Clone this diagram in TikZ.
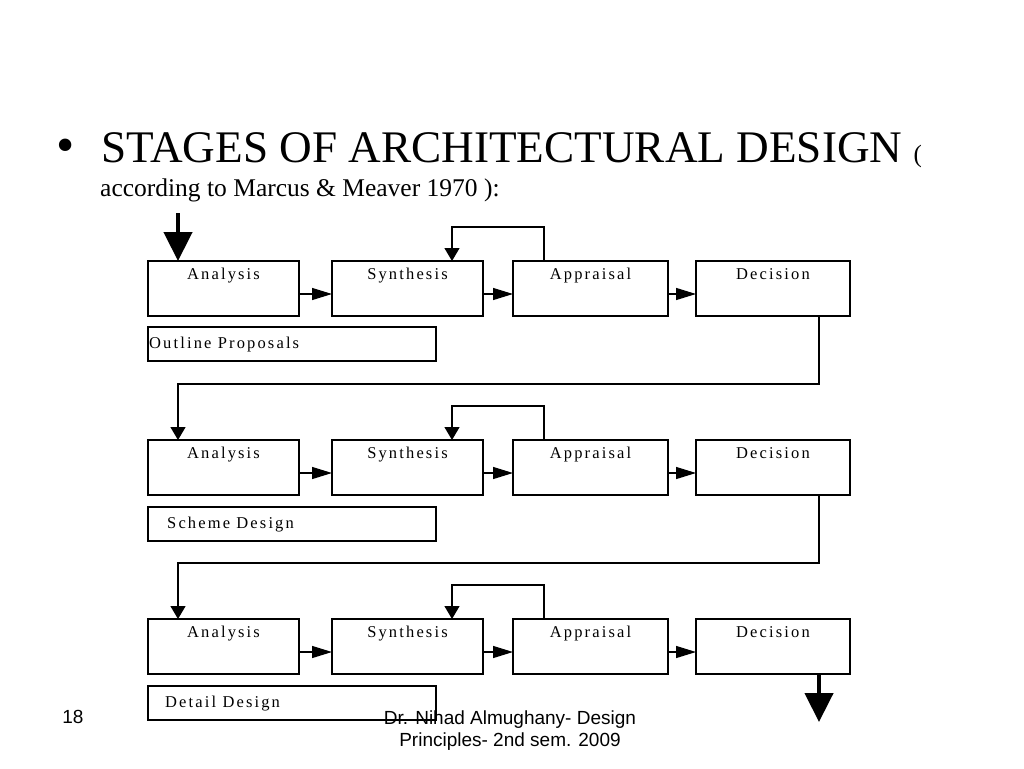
\documentclass[tikz,border=0pt]{standalone}
\usepackage{fontspec}
\setmainfont{Liberation Serif}
\newfontfamily\boxfont[LetterSpace=13]{Liberation Serif}
\newfontfamily\footfont{Liberation Sans}
\usetikzlibrary{arrows.meta}
\begin{document}
\begin{tikzpicture}[x=1pt,y=-1pt,
  stagebox/.style={draw=black, line width=1.2pt, inner sep=0pt, outer sep=0pt,
    text height=18pt, text depth=37pt, anchor=north west,
    font=\boxfont\fontsize{16.5}{19}\selectfont},
  widebox/.style={draw=black, line width=1.2pt, inner sep=0pt, outer sep=0pt,
    minimum width=288pt, minimum height=34pt, anchor=north west},
  boxtext/.style={inner sep=0pt, anchor=base west, font=\boxfont\fontsize{16.5}{19}\selectfont},
  flow/.style={line width=1.3pt, -{Triangle[length=20pt,width=12pt]}},
  fb/.style={line width=1.3pt, -{Triangle[length=13pt,width=15pt]}},
  bigarrow/.style={line width=4.5pt, -{Triangle[length=29pt,width=28pt]}},
  foot/.style={inner sep=0pt, anchor=base, font=\footfont\fontsize{19}{22}\selectfont}
]
\fill[white] (0,0) rectangle (1024,768);
\path[use as bounding box] (0,0) rectangle (1024,768);

% title
\node[inner sep=0pt] (bullet) at (66,151) {\fontsize{52}{56}\selectfont •};
\node[inner sep=0pt, anchor=base west] (title) at (101,162)
  {\fontsize{45.2}{50}\selectfont STAGES OF ARCHITECTURAL DESIGN {\fontsize{25}{30}\selectfont (}};
\node[inner sep=0pt, anchor=base west] (subtitle) at (100,196)
  {\fontsize{25.5}{30}\selectfont according to Marcus \& Meaver 1970 ):};

% rows
\foreach \r/\y in {1/261,2/440,3/619}{
  \node[stagebox, minimum width=151pt] (a\r) at (148,\y) {Analysis};
  \node[stagebox, minimum width=151pt] (s\r) at (332,\y) {Synthesis};
  \node[stagebox, minimum width=155pt] (p\r) at (513,\y) {Appraisal};
  \node[stagebox, minimum width=154pt] (d\r) at (696,\y) {Decision};
  \draw[flow] ([yshift=-5.5pt]a\r.east) -- ([yshift=-5.5pt]s\r.west);
  \draw[flow] ([yshift=-5.5pt]s\r.east) -- ([yshift=-5.5pt]p\r.west);
  \draw[flow] ([yshift=-5.5pt]p\r.east) -- ([yshift=-5.5pt]d\r.west);
  \draw[fb] ([xshift=31pt]p\r.north west) -- ++(0,-34) -| ([xshift=120pt]s\r.north west);
}

% stage output boxes
\node[widebox] (o1) at (148,327) {};
\node[boxtext] (t1) at (149,348) {Outline Proposals};
\node[widebox] (o2) at (148,507) {};
\node[boxtext] (t2) at (167,528) {Scheme Design};
\node[widebox] (o3) at (148,686) {};
\node[boxtext] (t3) at (165,707) {Detail Design};

% connections between rows
\draw[fb] ([xshift=123pt]d1.south west) -- ++(0,68) -| ([xshift=30pt]a2.north west);
\draw[fb] ([xshift=123pt]d2.south west) -- ++(0,68) -| ([xshift=30pt]a3.north west);

% entry and exit
\coordinate (st) at (178,213);
\draw[bigarrow] (st) -- (st |- a1.north);
\coordinate (en) at (819,722);
\draw[bigarrow] (en |- d3.south) -- (en);

% footer
\node[foot] (pg) at (73,723) {18};
\node[foot] (f1) at (510,724) {Dr. Nihad Almughany- Design};
\node[foot] (f2) at (510,746) {Principles- 2nd sem. 2009};
\end{tikzpicture}
\end{document}
